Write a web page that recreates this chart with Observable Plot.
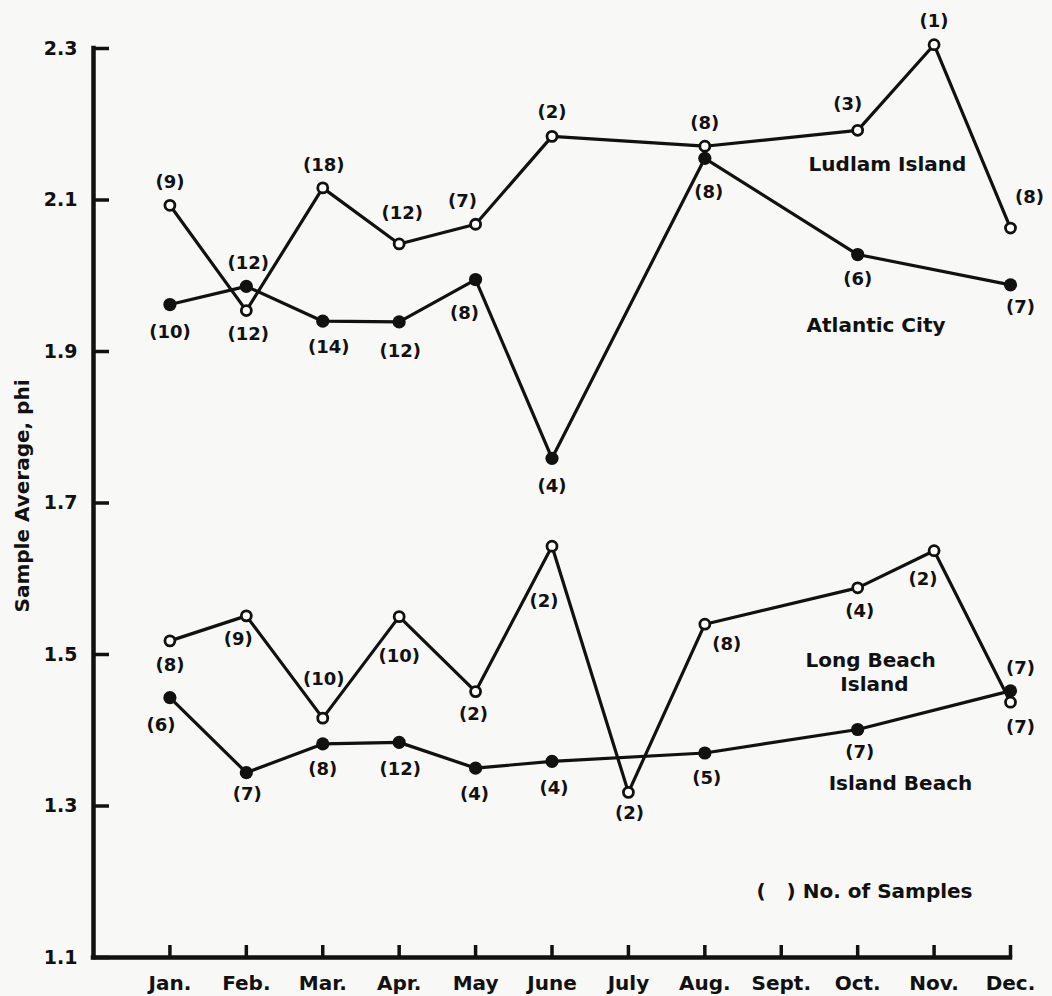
<!DOCTYPE html>
<html><head><meta charset="utf-8">
<script src="https://cdn.jsdelivr.net/npm/d3@7"></script>
<script src="https://cdn.jsdelivr.net/npm/@observablehq/plot@0.6"></script>
<style>
html,body{margin:0;padding:0;background:#f8f8f6;}
#chart{width:1052px;height:996px;overflow:hidden;}
</style></head><body><div id="chart"></div>
<script>
// ---- data ----
const months = ["Jan.","Feb.","Mar.","Apr.","May","June","July","Aug.","Sept.","Oct.","Nov.","Dec."];
const yTicks = [1.1, 1.3, 1.5, 1.7, 1.9, 2.1, 2.3];

const ludlamIsland   = [2.093, 1.954, 2.116, 2.042, 2.068, 2.184, null, 2.171, null, 2.192, 2.305, 2.063];
const ludlamIslandN  = [9, 12, 18, 12, 7, 2, null, 8, null, 3, 1, 8];

const atlanticCity   = [1.962, 1.986, 1.940, 1.939, 1.995, 1.759, null, 2.155, null, 2.028, null, 1.988];
const atlanticCityN  = [10, 12, 14, 12, 8, 4, null, 8, null, 6, null, 7];

const longBeachIsland  = [1.518, 1.551, 1.416, 1.550, 1.451, 1.643, 1.318, 1.540, null, 1.588, 1.637, 1.437];
const longBeachIslandN = [8, 9, 10, 10, 2, 2, 2, 8, null, 4, 2, 7];

const islandBeach    = [1.443, 1.344, 1.382, 1.384, 1.350, 1.359, null, 1.370, null, 1.401, null, 1.452];
const islandBeachN   = [6, 7, 8, 12, 4, 4, null, 5, null, 7, null, 7];

// ---- label placement (pixel nudges of the sample-count labels) ----
const ludlamOff   = [[0,-23],[2,24],[1,-23],[3,-31],[-13,-23],[0,-24],null,[0,-23],null,[-10,-26],[0,-23],[19,-31]];
const atlanticOff = [[0,28],[2,-23],[6,26],[1,29],[-11,34],[0,28],null,[4,34],null,[0,25],null,[10,22]];
const longOff     = [[0,24],[-8,23],[1,-39],[0,40],[-2,23],[-8,55],[1,21],[22,20],null,[2,23],[-11,29],[10,25]];
const islandOff   = [[-9,28],[1,22],[0,25],[1,27],[-1,26],[2,27],null,[2,25],null,[2,23],null,[10,-23]];

// annotations (data space)
const annotations = [
  {x: 10.39, y: 2.147, text: "Ludlam Island"},
  {x: 10.24, y: 1.934, text: "Atlantic City"},
  {x: 10.17, y: 1.492, text: "Long Beach"},
  {x: 10.22, y: 1.460, text: "Island"},
  {x: 10.56, y: 1.330, text: "Island Beach"},
  {x: 10.09, y: 1.187, text: "(   ) No. of Samples"}
];

function rows(values, counts, offs) {
  return values.map((v, i) => ({m: i + 1, v, n: counts[i], off: offs[i]})).filter(d => d.v != null);
}
const series = [
  {rows: rows(ludlamIsland, ludlamIslandN, ludlamOff), open: true},
  {rows: rows(atlanticCity, atlanticCityN, atlanticOff), open: false},
  {rows: rows(longBeachIsland, longBeachIslandN, longOff), open: true},
  {rows: rows(islandBeach, islandBeachN, islandOff), open: false}
];

const FONT = "DejaVu Sans";
const marks = [];
// axes lines
marks.push(Plot.ruleY([1.1], {stroke: "#111", strokeWidth: 4.5, strokeLinecap: "square"}));
marks.push(Plot.ruleX([0], {stroke: "#111", strokeWidth: 4.5, strokeLinecap: "square"}));
// data lines
for (const s of series) {
  marks.push(Plot.line(s.rows, {x: "m", y: "v", stroke: "#111", strokeWidth: 3.2, curve: "linear"}));
}
// dots: open first then filled
for (const s of series.filter(s => s.open)) {
  marks.push(Plot.dot(s.rows, {x: "m", y: "v", r: 5, fill: "#fff", stroke: "#111", strokeWidth: 2.8}));
}
for (const s of series.filter(s => !s.open)) {
  marks.push(Plot.dot(s.rows, {x: "m", y: "v", r: 6.6, fill: "#111", stroke: "none"}));
}
// count labels
for (const s of series) {
  for (const r of s.rows) {
    marks.push(Plot.text([r], {x: "m", y: "v", text: d => `(${d.n})`, dx: r.off[0], dy: r.off[1],
      fontSize: 18, fontWeight: "bold", fill: "#111"}));
  }
}
// annotations
marks.push(Plot.text(annotations, {x: "x", y: "y", text: "text", fontSize: 20, fontWeight: "bold", fill: "#111"}));
// y title
marks.push(Plot.text(["Sample Average, phi"], {frameAnchor: "left", textAnchor: "middle", text: d => d, rotate: -90,
  dx: -71, dy: -7, fontSize: 20, fontWeight: "bold", fill: "#111"}));
// axes
marks.push(Plot.axisY({ticks: yTicks, tickFormat: d => d.toFixed(1), tickSize: 16, tickPadding: 0,
  strokeWidth: 3.5, fontSize: 19, fontWeight: "bold", label: null}));
marks.push(Plot.axisX({ticks: d3.range(1, 13), tickFormat: d => months[d - 1], tickSize: 12, tickPadding: 6,
  strokeWidth: 3.5, fontSize: 20, fontWeight: "bold", label: null}));

const chart = Plot.plot({
  width: 1052, height: 996,
  marginLeft: 93, marginRight: 42, marginTop: 48, marginBottom: 39,
  x: {domain: [0, 12], type: "linear"},
  y: {domain: [1.1, 2.3], type: "linear"},
  style: {background: "#f8f8f6", fontFamily: FONT, color: "#111", overflow: "visible"},
  marks
});

// flip tick marks so they point into the plot
d3.select(chart).selectAll('g[aria-label="y-axis tick"] path, g[aria-label="x-axis tick"] path').each(function() {
  const el = d3.select(this);
  const d = el.attr("d");
  if (d) el.attr("d", d.replace(/L(-?[\d.]+),(-?[\d.]+)/g, (m, a, b) => `L${-a},${-b}`));
});
document.getElementById("chart").appendChild(chart);
</script></body></html>
